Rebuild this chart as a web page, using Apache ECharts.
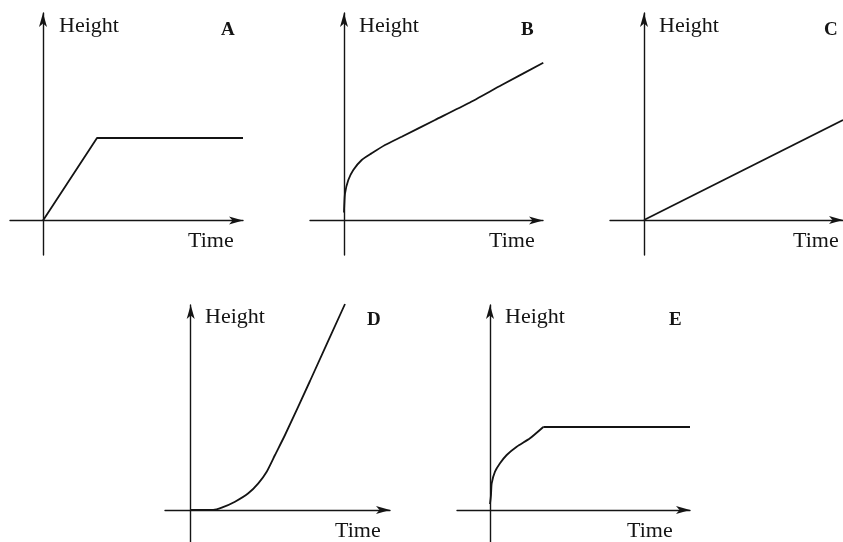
<!DOCTYPE html>
<html>
<head>
<meta charset="utf-8">
<script src="https://cdn.jsdelivr.net/npm/echarts@6/dist/echarts.min.js"></script>
<style>
  html, body { margin: 0; padding: 0; background: #fff; }
  #main { width: 843px; height: 542px; }
</style>
</head>
<body>
<div id="main"></div>
<script>
// values (time, height) in arbitrary units
const panelNames = ['A', 'B', 'C', 'D', 'E'];
const yAxisName = 'Height';
const xAxisName = 'Time';
const curveA = [[0, 0], [5.4, 8.25], [20, 8.25]];
const curveB = [[0, 0.8], [0.02, 1.4], [0.1, 2.7], [0.43, 4.05], [0.93, 5.05], [1.77, 6.05],
                [2.77, 6.72], [4.1, 7.55], [5.77, 8.38], [9.1, 10.05], [12.43, 11.72],
                [15.77, 13.55], [19.93, 15.78]];
const curveC = [[0, 0], [19.9, 10.0]];
const curveD = [[0, 0], [2.26, 0], [3.1, 0.23], [4.43, 0.83], [5.76, 1.67], [6.76, 2.67],
                [7.6, 3.83], [8.43, 5.5], [9.43, 7.5], [11.93, 12.9], [15.43, 20.6]];
const curveE = [[0, 0.6], [0.1, 1.5], [0.17, 2.67], [0.5, 3.83], [1, 4.67], [1.67, 5.5],
                [2.67, 6.33], [4, 7.17], [5.33, 8.3]];
const plateauE = [[5.33, 8.3], [20, 8.3]];
const curves = [[curveA], [curveB], [curveC], [curveD], [curveE, plateauE]];

// layout of each small plot (pixels) and its axis extent
const panels = [
  { left: 10,  top: 13,  width: 233, height: 242, x: [-3.3, 20],   y: [-3.45, 20.75], smooth: [false] },
  { left: 310, top: 13,  width: 233, height: 242, x: [-3.4, 19.9], y: [-3.45, 20.75], smooth: [0.2] },
  { left: 610, top: 13,  width: 233, height: 242, x: [-3.4, 19.9], y: [-3.5, 20.7],   smooth: [false] },
  { left: 165, top: 305, width: 225, height: 237, x: [-2.57, 19.93], y: [-3.2, 20.5], smooth: [0.2] },
  { left: 457, top: 305, width: 233, height: 237, x: [-3.3, 20],   y: [-3.2, 20.5],   smooth: [0.2, false] }
];
const textPos = [
  { h: [59, 15],  t: [188, 230], l: [221, 21] },
  { h: [359, 15], t: [489, 230], l: [521, 21] },
  { h: [659, 15], t: [793, 230], l: [824, 21] },
  { h: [205, 306], t: [335, 520], l: [367, 311] },
  { h: [505, 306], t: [627, 520], l: [669, 311] }
];

const ink = '#141414';
const font = 'Liberation Serif';

const grid = [], xAxis = [], yAxis = [], series = [], title = [];

panels.forEach((p, i) => {
  grid.push({ left: p.left, top: p.top, width: p.width, height: p.height });
  const axisCommon = {
    type: 'value',
    gridIndex: i,
    axisLine: {
      show: true,
      onZero: true,
      symbol: ['none', 'arrow'],
      symbolSize: [6, 14],
      lineStyle: { color: ink, width: 1.4 }
    },
    axisTick: { show: false },
    axisLabel: { show: false },
    splitLine: { show: false }
  };
  xAxis.push(Object.assign({}, axisCommon, { min: p.x[0], max: p.x[1] }));
  yAxis.push(Object.assign({}, axisCommon, { min: p.y[0], max: p.y[1] }));
  curves[i].forEach((data, k) => {
    series.push({
      type: 'line',
      xAxisIndex: i,
      yAxisIndex: i,
      data: data,
      smooth: p.smooth[k],
      showSymbol: false,
      clip: false,
      lineStyle: { color: ink, width: 1.8 }
    });
  });

  const tp = textPos[i];
  const style = { fontFamily: font, fontSize: 22, fontWeight: 'normal', color: ink };
  title.push({ text: yAxisName, left: tp.h[0], top: tp.h[1], padding: 0, textStyle: style });
  title.push({ text: xAxisName, left: tp.t[0], top: tp.t[1], padding: 0, textStyle: style });
  title.push({
    text: panelNames[i], left: tp.l[0], top: tp.l[1], padding: 0,
    textStyle: { fontFamily: font, fontSize: 19, fontWeight: 'bold', color: ink }
  });
});

const chart = echarts.init(document.getElementById('main'));
chart.setOption({
  animation: false,
  backgroundColor: '#fff',
  title: title,
  grid: grid,
  xAxis: xAxis,
  yAxis: yAxis,
  series: series
});
</script>
</body>
</html>
